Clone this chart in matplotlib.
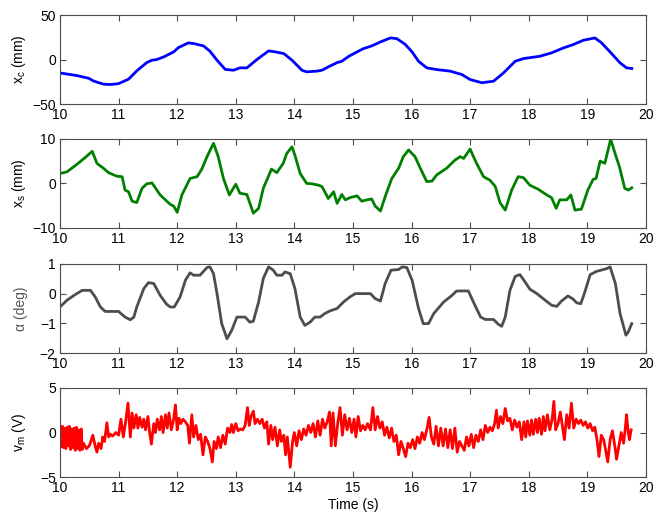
import matplotlib
matplotlib.use('Agg')
import matplotlib.pyplot as plt
import numpy as np

plt.rcParams['font.family'] = ['Liberation Sans', 'DejaVu Sans']
plt.rcParams['mathtext.fontset'] = 'custom'
plt.rcParams['mathtext.rm'] = 'Liberation Sans'
plt.rcParams['mathtext.it'] = 'Liberation Sans'

# cart position x_c (mm)
t_xc = [10.0, 10.29, 10.49, 10.57, 10.74, 10.86, 11.0, 11.17, 11.31, 11.48, 11.57, 11.65,
        11.77, 11.94, 12.02, 12.19, 12.28, 12.45, 12.56, 12.68, 12.82, 12.96, 13.07, 13.19,
        13.36, 13.56, 13.68, 13.82, 13.96, 14.13, 14.21, 14.38, 14.47, 14.58, 14.73, 14.81,
        14.93, 15.07, 15.18, 15.32, 15.47, 15.64, 15.75, 15.89, 16.01, 16.12, 16.26, 16.43,
        16.66, 16.86, 17.0, 17.2, 17.4, 17.57, 17.77, 17.91, 18.19, 18.39, 18.59, 18.76,
        18.93, 19.13, 19.24, 19.39, 19.56, 19.67, 19.76]
xc = [-15, -18, -21, -24, -27.6, -28, -27, -22, -12.7, -3.4, -0.7, 0,
      3, 8.6, 13.4, 18.7, 18, 15.3, 9.3, -0.7, -11, -12, -9.3, -9.3,
      0, 9.7, 8.6, 6.7, -0.7, -12, -13.8, -13, -12, -8.2, -3.4, -1.9,
      3.7, 8.6, 12.3, 15.3, 19.8, 24.3, 23.5, 17.2, 8.6, -1.9, -9.3, -11.2,
      -13, -16.8, -22.4, -26, -24.3, -15, -1.9, 1.1, 3.7, 7.5, 13, 16.8,
      21.6, 24.3, 19, 8.6, -3.7, -9.3, -10]

# spring / second mass position x_s (mm)
t_xs = [10.0, 10.12, 10.29, 10.43, 10.55, 10.63, 10.74, 10.83, 10.97, 11.06, 11.11, 11.17,
        11.23, 11.31, 11.4, 11.48, 11.57, 11.71, 11.88, 11.94, 12.0, 12.08, 12.22, 12.34,
        12.42, 12.51, 12.62, 12.7, 12.79, 12.89, 13.0, 13.07, 13.19, 13.3, 13.39, 13.47,
        13.61, 13.7, 13.81, 13.87, 13.96, 14.01, 14.1, 14.21, 14.3, 14.41, 14.47, 14.52,
        14.58, 14.67, 14.73, 14.81, 14.87, 14.95, 15.07, 15.15, 15.24, 15.32, 15.38, 15.47,
        15.55, 15.66, 15.78, 15.86, 15.95, 16.06, 16.15, 16.26, 16.35, 16.43, 16.6, 16.74,
        16.83, 16.89, 17.0, 17.11, 17.23, 17.34, 17.43, 17.51, 17.6, 17.71, 17.82, 17.91,
        18.02, 18.16, 18.31, 18.39, 18.47, 18.53, 18.65, 18.72, 18.79, 18.9, 19.01, 19.1,
        19.15, 19.22, 19.3, 19.4, 19.48, 19.55, 19.64, 19.7, 19.76]
xs = [2.2, 2.6, 4.3, 5.8, 7.2, 4.5, 3.4, 2.4, 1.6, 1.5, -1.5, -1.9,
      -4.0, -4.3, -1.1, -0.1, 0.1, -2.6, -4.7, -5.1, -6.5, -2.6, 1.1, 1.5,
      3.2, 6.0, 9.0, 6.0, 1.1, -2.6, -0.2, -2.2, -2.5, -6.7, -5.6, -1.1,
      3.2, 2.4, 4.5, 6.7, 8.2, 6.3, 2.2, 0.0, -0.1, -0.4, -0.7, -1.9,
      -3.4, -1.9, -4.5, -2.5, -3.7, -3.2, -2.8, -4.0, -3.7, -3.5, -5.1, -6.2,
      -3.0, 1.0, 3.4, 6.0, 7.5, 6.0, 3.4, 0.4, 0.5, 1.9, 3.4, 5.2,
      6.0, 5.6, 7.7, 4.5, 1.5, 0.7, -0.7, -4.3, -6.0, -1.5, 1.5, 1.3,
      -0.4, -1.3, -2.6, -3.2, -5.6, -3.7, -3.7, -2.6, -6.0, -5.8, -1.5, 0.9,
      1.1, 5.0, 4.5, 9.9, 6.5, 3.7, -1.1, -1.5, -1.0]

# pendulum angle alpha (deg)
t_al = [10.0, 10.12, 10.26, 10.38, 10.52, 10.6, 10.69, 10.77, 11.0, 11.11, 11.2, 11.26,
        11.31, 11.43, 11.51, 11.6, 11.71, 11.82, 11.88, 11.95, 12.05, 12.14, 12.22, 12.28,
        12.39, 12.51, 12.56, 12.62, 12.68, 12.76, 12.85, 12.93, 13.02, 13.16, 13.24, 13.3,
        13.39, 13.47, 13.56, 13.64, 13.7, 13.79, 13.84, 13.93, 14.01, 14.1, 14.18, 14.27,
        14.35, 14.44, 14.52, 14.61, 14.73, 14.84, 14.95, 15.04, 15.3, 15.38, 15.47, 15.55,
        15.65, 15.78, 15.84, 15.92, 16.01, 16.12, 16.2, 16.29, 16.38, 16.55, 16.69, 16.77,
        16.97, 17.07, 17.18, 17.26, 17.4, 17.48, 17.54, 17.6, 17.68, 17.77, 17.85, 17.94,
        18.02, 18.14, 18.28, 18.39, 18.48, 18.56, 18.67, 18.75, 18.82, 18.89, 18.96, 19.05,
        19.16, 19.33, 19.39, 19.48, 19.56, 19.66, 19.7, 19.76]
alpha = [-0.45, -0.22, -0.03, 0.11, 0.11, -0.11, -0.45, -0.6, -0.6, -0.79, -0.88, -0.79,
         -0.45, 0.17, 0.37, 0.34, -0.06, -0.36, -0.45, -0.45, -0.11, 0.45, 0.7, 0.62,
         0.62, 0.88, 0.9, 0.67, 0.0, -1.01, -1.52, -1.24, -0.79, -0.79, -0.96, -0.93,
         -0.28, 0.51, 0.9, 0.79, 0.62, 0.62, 0.73, 0.67, 0.17, -0.79, -1.07, -0.96,
         -0.79, -0.79, -0.67, -0.58, -0.5, -0.28, -0.11, 0.0, 0.0, -0.17, -0.25, 0.34,
         0.79, 0.81, 0.9, 0.88, 0.45, -0.5, -1.01, -1.01, -0.67, -0.28, -0.06, 0.09,
         0.09, -0.34, -0.79, -0.87, -0.87, -1.03, -1.1, -0.79, 0.11, 0.58, 0.64, 0.39,
         0.15, 0.0, -0.22, -0.39, -0.43, -0.25, -0.08, -0.17, -0.31, -0.34, 0.06, 0.64,
         0.75, 0.84, 0.9, 0.34, -0.67, -1.4, -1.29, -1.01]

# motor voltage v_m (V)
t_vm = [10.0, 10.02, 10.04, 10.06, 10.08, 10.1, 10.12, 10.14, 10.16, 10.18, 10.2, 10.22,
        10.24, 10.26, 10.28, 10.3, 10.32, 10.34, 10.36, 10.38, 10.4, 10.45, 10.5, 10.53,
        10.56, 10.6, 10.63, 10.66, 10.7, 10.73, 10.76, 10.8, 10.83, 10.86, 10.9, 10.95,
        11.0, 11.04, 11.08, 11.12, 11.16, 11.2, 11.23, 11.26, 11.3, 11.33, 11.36, 11.4,
        11.43, 11.46, 11.5, 11.53, 11.56, 11.6, 11.63, 11.66, 11.7, 11.73, 11.76, 11.8,
        11.83, 11.86, 11.9, 11.94, 11.97, 12.0, 12.03, 12.06, 12.1, 12.14, 12.18, 12.21,
        12.25, 12.28, 12.32, 12.36, 12.4, 12.44, 12.48, 12.52, 12.56, 12.6, 12.63, 12.67,
        12.7, 12.74, 12.78, 12.82, 12.86, 12.9, 12.93, 12.96, 13.0, 13.04, 13.08, 13.12,
        13.16, 13.2, 13.23, 13.26, 13.3, 13.33, 13.37, 13.41, 13.45, 13.49, 13.53, 13.56,
        13.6, 13.63, 13.67, 13.71, 13.75, 13.78, 13.82, 13.85, 13.88, 13.93, 13.97, 14.0,
        14.04, 14.08, 14.12, 14.16, 14.2, 14.24, 14.28, 14.32, 14.36, 14.4, 14.44, 14.48,
        14.52, 14.56, 14.6, 14.63, 14.66, 14.7, 14.74, 14.78, 14.82, 14.86, 14.9, 14.94,
        14.98, 15.02, 15.05, 15.09, 15.13, 15.17, 15.21, 15.25, 15.3, 15.34, 15.38, 15.42,
        15.46, 15.5, 15.54, 15.58, 15.62, 15.66, 15.7, 15.74, 15.78, 15.82, 15.86, 15.9,
        15.94, 15.98, 16.02, 16.06, 16.1, 16.14, 16.18, 16.22, 16.26, 16.3, 16.34, 16.38,
        16.42, 16.46, 16.5, 16.54, 16.58, 16.62, 16.66, 16.7, 16.74, 16.78, 16.82, 16.86,
        16.9, 16.94, 16.98, 17.02, 17.06, 17.1, 17.14, 17.18, 17.22, 17.26, 17.3, 17.34,
        17.38, 17.42, 17.45, 17.48, 17.52, 17.56, 17.6, 17.64, 17.68, 17.72, 17.76, 17.8,
        17.84, 17.88, 17.92, 17.95, 17.98, 18.02, 18.05, 18.08, 18.12, 18.15, 18.18, 18.22,
        18.25, 18.28, 18.32, 18.36, 18.4, 18.43, 18.46, 18.5, 18.54, 18.58, 18.61, 18.65,
        18.69, 18.73, 18.77, 18.81, 18.85, 18.89, 18.93, 18.97, 19.01, 19.05, 19.09, 19.13,
        19.17, 19.2, 19.24, 19.28, 19.31, 19.35, 19.39, 19.43, 19.47, 19.5, 19.54, 19.58,
        19.62, 19.65, 19.67, 19.7, 19.72, 19.75]
vm = [0.6, -1.6, 0.7, -1.7, 0.5, -1.8, 0.6, -1.5, 0.7, -1.9, 0.4, -1.7,
      0.5, -2.0, 0.6, -1.8, 0.3, -2.0, 0.4, -1.9, -1.2, -1.8, -1.5, -0.9,
      -0.3, -1.5, -2.2, -1.2, -1.8, -0.5, -1.0, 1.1, -0.5, -0.2, -0.4, 0.0,
      -0.3, 1.5, -0.5, 1.2, 3.3, -0.5, 2.2, 0.5, 2.0, 0.5, 1.7, 0.6,
      1.5, 0.3, 1.8, 0.0, -1.3, 1.0, 0.0, 1.5, 0.3, 1.8, 0.0, 2.0,
      0.5, 2.2, 0.3, 1.5, 3.1, 0.3, 1.6, 1.0, 1.5, 1.2, 0.8, -1.2,
      2.0, -0.5, 0.8, -0.8, -0.2, -2.5, -0.5, -1.0, -1.8, -3.3, -1.0, -1.8,
      -0.5, -1.7, -0.3, -1.3, 0.5, 0.0, 0.9, 0.0, 1.0, 0.2, 0.4, 0.3,
      0.8, 2.8, 0.8, 1.8, 2.4, 1.0, 1.5, 1.0, 1.5, 0.5, 1.2, -1.3,
      0.8, -0.8, 0.6, -1.5, 0.3, -1.0, -0.3, -2.5, -0.5, -3.9, -1.0, 0.0,
      -1.5, 0.2, -0.8, 0.4, -0.3, 0.8, 0.0, 1.0, -0.5, 1.3, -0.3, 1.5,
      0.5, 1.2, 2.3, -1.5, 2.2, -1.5, 1.0, 2.8, -0.3, 2.0, 0.3, 1.6,
      0.0, 1.5, -0.5, 1.8, 0.2, 0.8, 0.3, 1.0, 0.3, 2.8, 0.3, 1.8,
      0.5, 1.2, -0.3, 0.6, -0.6, 0.5, -1.0, -0.3, -2.5, -1.0, -1.8, -2.7,
      -1.2, -1.7, -0.8, -1.8, -0.5, -1.2, 0.0, -0.8, 0.3, 1.7, -0.5, -1.3,
      0.7, -1.5, 0.5, -1.5, 0.4, -1.7, 0.3, -1.8, 0.5, -2.2, -1.0, -1.5,
      -2.0, -0.5, -1.5, -0.2, -1.7, -0.3, -1.0, 0.3, -0.8, 0.8, 0.0, 0.6,
      0.2, 1.0, 2.5, 0.5, 1.8, 1.0, 2.7, 1.3, 1.6, 0.3, 1.4, 0.6,
      1.2, -0.8, 1.2, -0.5, 1.3, -0.3, 1.4, -0.2, 1.5, 0.0, 1.6, -0.2,
      1.8, 0.2, 2.0, 0.3, 1.5, 3.5, 0.3, 1.0, 2.3, 0.5, -0.8, 2.0,
      0.5, 3.3, 0.5, 1.5, 1.0, 1.4, 0.8, 1.2, 0.5, 1.0, 0.2, 0.6,
      -1.0, -2.7, -0.3, -0.8, -1.8, -3.3, -0.8, 0.2, -1.5, -3.0, -1.5, 0.0,
      -1.2, 0.5, 2.0, 0.0, -0.8, 0.3]

xticks = list(range(10, 21))
frame = '#4d4d4d'

fig = plt.figure(figsize=(6.56, 5.18), dpi=100)
left, width, height = 0.0915, 0.893, 0.172
bottoms = [0.799, 0.560, 0.3185, 0.079]

panels = [
    (t_xc, xc, '#0000ff', (-50, 50), [-50, 0, 50], r'$\mathregular{x_c}$ (mm)', 'black'),
    (t_xs, xs, '#008000', (-10, 10), [-10, 0, 10], r'$\mathregular{x_s}$ (mm)', 'black'),
    (t_al, alpha, '#4d4d4d', (-2, 1), [-2, -1, 0, 1], 'α (deg)', '#555555'),
    (t_vm, vm, '#ff0000', (-5, 5), [-5, 0, 5], r'$\mathregular{v_m}$ (V)', 'black'),
]

for b, (t, y, col, ylim, yt, lab, labcol) in zip(bottoms, panels):
    ax = fig.add_axes([left, b, width, height])
    ax.plot(t, y, color=col, lw=2.0)
    ax.set_xlim(10, 20)
    ax.set_ylim(*ylim)
    ax.set_xticks(xticks)
    ax.set_yticks(yt)
    ax.tick_params(direction='in', top=True, right=True, length=4, width=0.8,
                   color=frame, labelsize=10, pad=3)
    for s in ax.spines.values():
        s.set_color(frame)
        s.set_linewidth(0.8)
    ax.set_ylabel(lab, fontsize=10, color=labcol, labelpad=4)
    ax.yaxis.set_label_coords(-0.055, 0.5)

ax.set_xlabel('Time (s)', fontsize=10, labelpad=2)

fig.savefig('out.png', dpi=100)
